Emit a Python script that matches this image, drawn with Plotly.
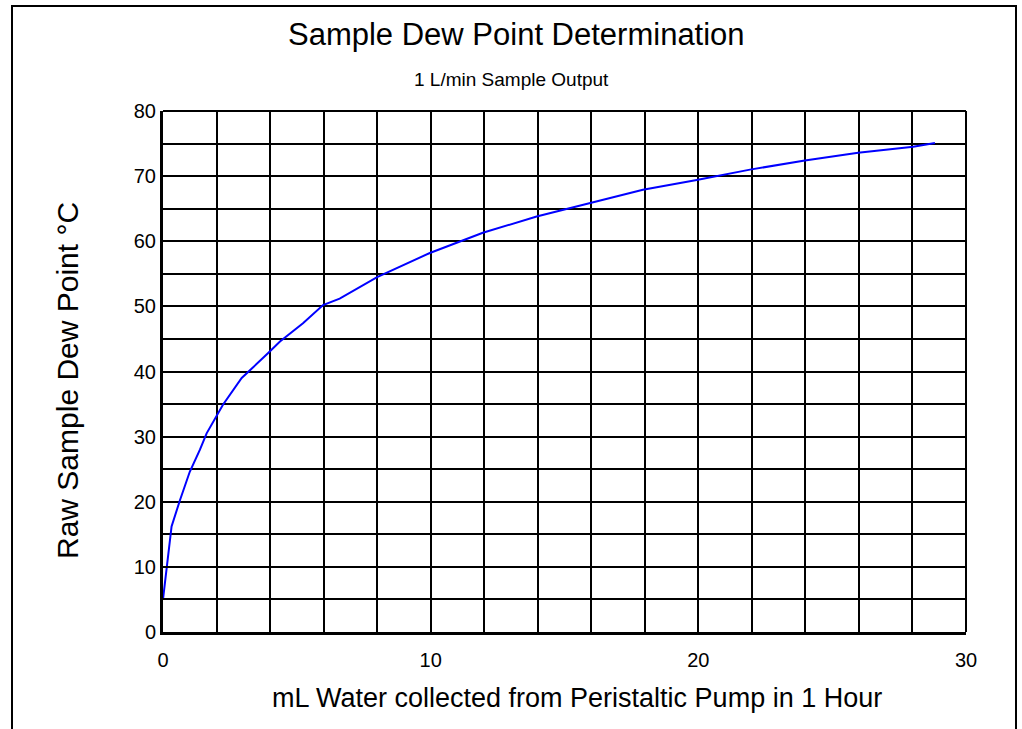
import plotly.graph_objects as go

# Data
water_ml = [0, 0.32, 0.63, 1.0, 1.38, 1.63, 2.24, 2.94, 3.92, 4.37, 5.23, 5.98, 6.6, 8.0,
            9.97, 11.95, 13.96, 15.95, 17.93, 19.94, 21.93, 23.98, 25.97, 28.03, 28.84]
dew_point = [5, 16.2, 20.2, 24.6, 28.0, 30.5, 34.9, 39.0, 42.8, 44.6, 47.4, 50.2, 51.2, 54.5,
             58.2, 61.3, 63.8, 65.9, 67.9, 69.4, 71.0, 72.4, 73.6, 74.5, 75.1]

title_text = "Sample Dew Point Determination"
subtitle_text = "1 L/min Sample Output"
x_title = "mL Water collected from Peristaltic Pump in 1 Hour"
y_title = "Raw Sample Dew Point °C"

W, H = 1022, 729
L, R, T, B = 163, 56, 111, 97
pw, ph = W - L - R, H - T - B

def px_x(p):
    return (p - L) / pw

def px_y(p):
    return (H - B - p) / ph

FONT = "Liberation Sans, Arial, sans-serif"

fig = go.Figure()
fig.add_trace(go.Scatter(x=water_ml, y=dew_point, mode="lines",
                         line=dict(color="#0000ff", width=2), showlegend=False))

axis_common = dict(showline=True, linecolor="black", linewidth=3,
                   showgrid=True, gridcolor="black", gridwidth=2,
                   ticks="inside", ticklen=8, tickwidth=2, tickcolor="black",
                   zeroline=False, tickfont=dict(family=FONT, size=20, color="black"))

fig.update_xaxes(range=[0, 30], dtick=10, tick0=0, ticklabelstandoff=8,
                 minor=dict(dtick=2, showgrid=True, gridcolor="black", gridwidth=2,
                            ticks="inside", ticklen=5, tickcolor="black"),
                 **axis_common)
fig.update_yaxes(range=[0, 80], dtick=10, tick0=0,
                 minor=dict(dtick=5, showgrid=True, gridcolor="black", gridwidth=2,
                            ticks="inside", ticklen=5, tickcolor="black"),
                 **axis_common)

shapes = [
    # top and right plot borders
    dict(type="line", xref="paper", yref="paper", x0=0, x1=1, y0=1, y1=1,
         line=dict(color="black", width=2)),
    dict(type="line", xref="paper", yref="paper", x0=1, x1=1, y0=0, y1=1,
         line=dict(color="black", width=2)),
    # outer frame
    dict(type="rect", xref="paper", yref="paper",
         x0=px_x(12), x1=px_x(1016), y0=px_y(740), y1=px_y(6),
         line=dict(color="black", width=2), fillcolor="rgba(0,0,0,0)", layer="below"),
]

annotations = [
    dict(text=title_text, xref="paper", yref="paper", x=px_x(516), y=px_y(35),
         showarrow=False, font=dict(family=FONT, size=31, color="black"),
         xanchor="center", yanchor="middle"),
    dict(text=subtitle_text, xref="paper", yref="paper", x=px_x(511), y=px_y(79),
         showarrow=False, font=dict(family=FONT, size=19, color="black"),
         xanchor="center", yanchor="middle"),
    dict(text=x_title, xref="paper", yref="paper", x=px_x(577), y=px_y(698),
         showarrow=False, font=dict(family=FONT, size=27, color="black"),
         xanchor="center", yanchor="middle"),
    dict(text=y_title, xref="paper", yref="paper", x=px_x(67), y=px_y(381),
         showarrow=False, textangle=-90, font=dict(family=FONT, size=30, color="black"),
         xanchor="center", yanchor="middle"),
]

fig.update_layout(width=W, height=H, margin=dict(l=L, r=R, t=T, b=B),
                  paper_bgcolor="white", plot_bgcolor="white",
                  shapes=shapes, annotations=annotations)

fig.write_html("out.html", config={"displayModeBar": False},
               post_script="document.body.style.margin='0';")
